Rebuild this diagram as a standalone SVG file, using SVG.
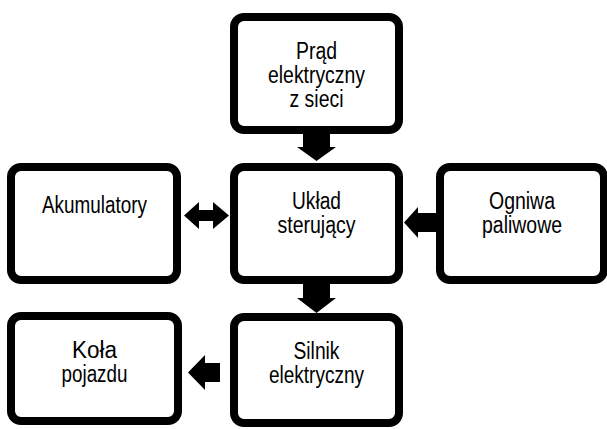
<svg xmlns="http://www.w3.org/2000/svg" width="607" height="429" viewBox="0 0 607 429">
<style>
.box{fill:#fff;stroke:#000;stroke-width:8}
.t{font-family:"Liberation Sans",Arial,sans-serif;font-size:23px;fill:#000;text-anchor:middle}
.arr{fill:#000}
</style>
<rect width="607" height="429" fill="#fff"/>
<g id="connectors">
<polygon class="arr" points="303,134 330,134 330,147 336,147 316.5,161 297,147 303,147"/>
<polygon class="arr" points="303,284 330,284 330,298 336,298 316.5,313 297,298 303,298"/>
<polygon class="arr" points="184,215.5 199,202 199,210 213,210 213,202 229,215.5 213,229 213,221 199,221 199,229"/>
<polygon class="arr" points="404,222.5 418,207 418,213 436,213 436,232 418,232 418,238"/>
<polygon class="arr" points="188,372.5 205,355 205,363 220,363 220,382 205,382 205,390"/>
</g>
<g id="prad">
<rect class="box" x="234" y="17" width="165" height="113" rx="10"/>
<text class="t" x="316.5" y="59" textLength="41" lengthAdjust="spacingAndGlyphs">Prąd</text>
<text class="t" x="316.5" y="83" textLength="97" lengthAdjust="spacingAndGlyphs">elektryczny</text>
<text class="t" x="316.5" y="107" textLength="54" lengthAdjust="spacingAndGlyphs">z sieci</text>
</g>
<g id="akumulatory">
<rect class="box" x="11" y="167" width="166" height="113" rx="10"/>
<text class="t" x="94.5" y="213" textLength="105" lengthAdjust="spacingAndGlyphs">Akumulatory</text>
</g>
<g id="uklad">
<rect class="box" x="234" y="167" width="165" height="113" rx="10"/>
<text class="t" x="316.5" y="209" textLength="49" lengthAdjust="spacingAndGlyphs">Układ</text>
<text class="t" x="316.5" y="233" textLength="78" lengthAdjust="spacingAndGlyphs">sterujący</text>
</g>
<g id="ogniwa">
<rect class="box" x="440" y="167" width="164" height="113" rx="10"/>
<text class="t" x="522" y="209" textLength="66" lengthAdjust="spacingAndGlyphs">Ogniwa</text>
<text class="t" x="522" y="233" textLength="80" lengthAdjust="spacingAndGlyphs">paliwowe</text>
</g>
<g id="kola">
<rect class="box" x="11" y="316" width="167" height="105" rx="10"/>
<text class="t" x="94.5" y="358" textLength="45" lengthAdjust="spacingAndGlyphs">Koła</text>
<text class="t" x="94.5" y="382" textLength="66" lengthAdjust="spacingAndGlyphs">pojazdu</text>
</g>
<g id="silnik">
<rect class="box" x="234" y="317" width="165" height="106" rx="10"/>
<text class="t" x="316.5" y="359" textLength="46" lengthAdjust="spacingAndGlyphs">Silnik</text>
<text class="t" x="316.5" y="383" textLength="95" lengthAdjust="spacingAndGlyphs">elektryczny</text>
</g>
</svg>
